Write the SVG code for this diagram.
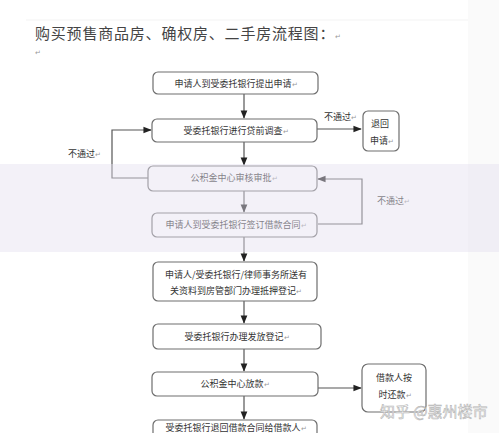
<svg xmlns="http://www.w3.org/2000/svg" width="499" height="433" viewBox="0 0 499 433">
<defs>
<style>
.box{fill:#fff;stroke:#6e6e6e;stroke-width:1.2}
.t{font-family:"Noto Sans CJK SC","Noto Sans CJK JP",sans-serif;font-size:9px;fill:#333;text-anchor:middle}
.lbl{font-family:"Noto Sans CJK SC",sans-serif;font-size:9px;fill:#333}
.ln{fill:none;stroke:#555;stroke-width:1.2}
.pm{fill:#999;font-size:7px}
</style>
<marker id="ah" viewBox="0 0 10 10" refX="9" refY="5" markerWidth="7" markerHeight="7" orient="auto">
<path d="M0,1 L10,5 L0,9 z" fill="#222"/>
</marker>
</defs>
<rect width="499" height="433" fill="#fff"/>
<rect x="468" y="0" width="31" height="433" fill="#fafafa"/>
<line x1="26" y1="20" x2="468" y2="20" stroke="#f3f3f3"/>
<text x="35" y="39" font-family="'Noto Sans CJK SC',sans-serif" font-size="15" fill="#444" letter-spacing="0.8">购买预售商品房、确权房、二手房流程图：<tspan class="pm">↵</tspan></text>
<text x="35" y="55" class="pm" font-family="sans-serif">↵</text>

<g id="connectors">
<line class="ln" x1="244" y1="94" x2="244" y2="118" marker-end="url(#ah)"/>
<line class="ln" x1="317" y1="129" x2="361" y2="129" marker-end="url(#ah)"/>
<text class="lbl" x="324" y="120">不通过<tspan class="pm">↵</tspan></text>
<line class="ln" x1="244" y1="142" x2="244" y2="165" marker-end="url(#ah)"/>
<polyline class="ln" points="148,178 112,178 112,130 151,130" marker-end="url(#ah)"/>
<text class="lbl" x="68" y="157">不通过<tspan class="pm">↵</tspan></text>
<line class="ln" x1="244" y1="191" x2="244" y2="212" marker-end="url(#ah)"/>
<polyline class="ln" points="318,224 362,224 362,179 318,179" marker-end="url(#ah)"/>
<text class="lbl" x="377" y="204">不通过<tspan class="pm">↵</tspan></text>
<line class="ln" x1="244" y1="237" x2="244" y2="261" marker-end="url(#ah)"/>
<line class="ln" x1="244" y1="301" x2="244" y2="323" marker-end="url(#ah)"/>
<line class="ln" x1="244" y1="349" x2="244" y2="371" marker-end="url(#ah)"/>
<line class="ln" x1="318" y1="388" x2="361" y2="388" marker-end="url(#ah)"/>
<line class="ln" x1="244" y1="396" x2="244" y2="419" marker-end="url(#ah)"/>
</g>

<g id="n1"><rect class="box" x="153" y="72" width="165" height="22" rx="5"/><text class="t" x="236" y="87">申请人到受委托银行提出申请<tspan class="pm">↵</tspan></text></g>
<g id="n2"><rect class="box" x="152" y="119" width="165" height="23" rx="5"/><text class="t" x="236" y="134">受委托银行进行贷前调查<tspan class="pm">↵</tspan></text></g>
<g id="n_return"><rect class="box" x="363" y="111" width="36" height="40" rx="5"/><text class="t" x="380" y="127">退回</text><text class="t" x="382" y="144">申请<tspan class="pm">↵</tspan></text></g>
<g id="n3"><rect class="box" x="148" y="166" width="169" height="25" rx="5"/><text class="t" x="234" y="181">公积金中心审核审批<tspan class="pm">↵</tspan></text></g>
<g id="n4"><rect class="box" x="152" y="213" width="165" height="24" rx="5"/><text class="t" x="236" y="228">申请人到受委托银行签订借款合同<tspan class="pm">↵</tspan></text></g>
<g id="n5"><rect class="box" x="153" y="262" width="164" height="39" rx="5"/><text class="t" x="236" y="278">申请人/受委托银行/律师事务所送有</text><text class="t" x="236" y="294">关资料到房管部门办理抵押登记<tspan class="pm">↵</tspan></text></g>
<g id="n6"><rect class="box" x="153" y="324" width="168" height="25" rx="5"/><text class="t" x="237" y="340">受委托银行办理发放登记<tspan class="pm">↵</tspan></text></g>
<g id="n7"><rect class="box" x="152" y="372" width="166" height="24" rx="5"/><text class="t" x="235" y="387">公积金中心放款<tspan class="pm">↵</tspan></text></g>
<g id="n_repay"><rect class="box" x="362" y="364" width="64" height="48" rx="6"/><text class="t" x="394" y="381">借款人按</text><text class="t" x="395" y="398">时还款<tspan class="pm">↵</tspan></text></g>
<g id="n8"><rect class="box" x="153" y="420" width="164" height="30" rx="5"/><text class="t" x="236" y="430.5">受委托银行退回借款合同给借款人<tspan class="pm">↵</tspan></text></g>

<rect x="0" y="164" width="499" height="88" fill="#e4e0f0" fill-opacity="0.45"/>
<text x="380" y="417" font-family="'Noto Sans CJK SC',sans-serif" font-size="15" fill="#fff" stroke="#b5b5b5" stroke-width="0.6">知乎 @惠州楼市</text>
</svg>
